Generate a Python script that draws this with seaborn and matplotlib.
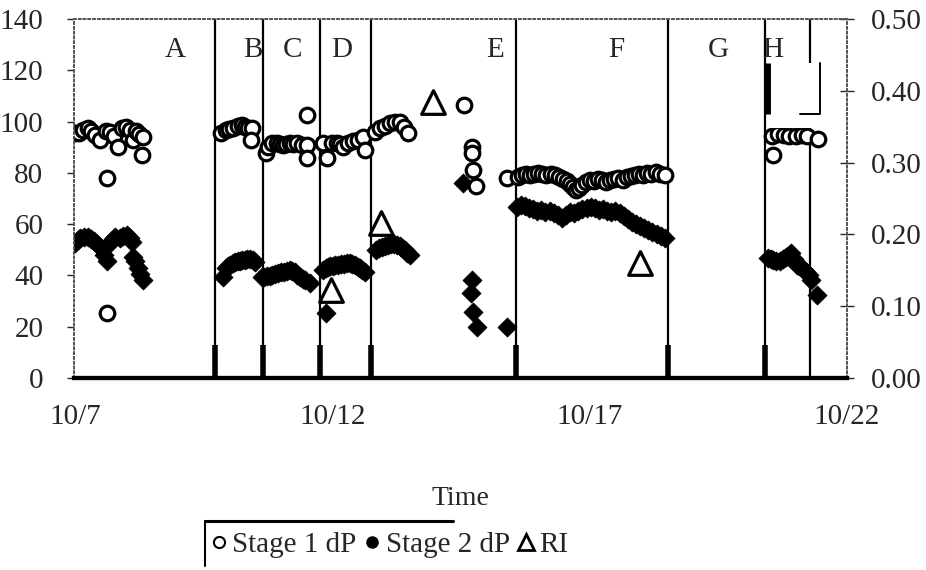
import matplotlib
matplotlib.use("Agg")
import seaborn as sns
from matplotlib import pyplot as plt
from matplotlib.lines import Line2D
from matplotlib.patches import Rectangle

# x values are days after 10/7
s1_day = [0.0, 0.08, 0.16, 0.25, 0.32, 0.39, 0.49, 0.6, 0.68, 0.76, 0.83, 0.91, 0.99, 1.07, 1.13, 1.18, 1.25, 1.32, 1.30,
          0.62, 0.62,
          2.83, 2.93, 3.0, 3.07, 3.17, 3.24, 3.30, 3.36, 3.44, 3.42,
          3.71, 3.75, 3.83, 3.92, 3.98, 4.04, 4.10, 4.17, 4.24, 4.31, 4.41, 4.50, 4.50, 4.50,
          4.82, 4.89, 4.99, 5.09, 5.15, 5.20, 5.30, 5.40, 5.50, 5.59, 5.63,
          5.83, 5.92, 6.02, 6.12, 6.21, 6.31, 6.39, 6.47,
          7.55, 7.71, 7.71, 7.73, 7.79, 8.39,
          8.60, 8.68, 8.76, 8.84, 8.92, 9.00, 9.08, 9.16, 9.24, 9.32, 9.40, 9.48, 9.56, 9.62, 9.68,
          9.74, 9.80, 9.86, 9.92, 10.00, 10.08, 10.16, 10.24, 10.32, 10.40, 10.48, 10.56, 10.64,
          10.72, 10.80, 10.88, 10.96, 11.04, 11.12, 11.20, 11.28, 11.36, 11.46,
          13.55, 13.65, 13.77, 13.88, 14.0, 14.12, 14.23, 14.43, 13.57]
s1_dp = [95.5, 95.5, 96.7, 97.5, 96.3, 94.8, 92.8, 96.3, 95.9, 94.4, 90.1, 97.5, 97.9, 96.7, 92.8, 96.3, 95.1, 94.0, 87.0,
         78.0, 25.4,
         95.5, 96.7, 97.1, 97.5, 98.3, 98.7, 97.9, 97.5, 97.5, 92.8,
         87.8, 90.1, 91.7, 91.7, 91.3, 90.9, 91.3, 91.7, 91.3, 91.7, 90.9, 90.9, 85.8, 102.6,
         91.7, 85.8, 91.7, 91.7, 91.3, 90.1, 91.7, 92.4, 92.8, 94.0, 88.9,
         95.9, 97.5, 98.3, 99.5, 99.8, 99.8, 97.9, 95.5,
         106.5, 90.1, 87.8, 81.1, 74.9, 78.0,
         78.4, 79.2, 79.6, 79.2, 79.6, 80.0, 79.6, 79.2, 79.6, 79.2, 78.4, 77.6, 76.8, 75.6, 74.5,
         73.3, 74.1, 75.3, 76.4, 77.2, 76.8, 77.6, 77.2, 76.4, 77.2, 77.6, 78.0, 77.2,
         78.4, 78.8, 79.2, 79.6, 79.2, 80.0, 79.6, 80.4, 79.6, 79.2,
         94.4, 95.1, 94.8, 94.4, 94.4, 94.8, 94.4, 93.2, 87.0]

s2_day = [0.0, 0.05, 0.1, 0.18, 0.25, 0.31, 0.37, 0.43, 0.49, 0.56, 0.62, 0.68, 0.73, 0.78, 0.87, 0.94, 1.01, 1.06,
          1.11, 1.13, 1.17, 1.22, 1.27, 1.32,
          2.87, 2.93, 2.97, 3.01, 3.06, 3.11, 3.16, 3.20, 3.25, 3.30, 3.35, 3.40, 3.45, 3.50,
          3.63, 3.68, 3.73, 3.78, 3.83, 3.89, 3.94, 4.00, 4.06, 4.11, 4.17, 4.22, 4.27, 4.32, 4.37, 4.42, 4.47, 4.56,
          4.82, 4.87, 4.91, 4.96, 5.01, 5.06, 5.11, 5.16, 5.22, 5.28, 5.34, 5.39, 5.44, 5.49, 5.53, 5.58, 5.63,
          4.87,
          5.84, 5.90, 5.96, 6.02, 6.08, 6.14, 6.19, 6.25, 6.31, 6.36, 6.41, 6.46, 6.50,
          7.53, 7.71, 7.69, 7.73, 7.81, 8.39,
          8.58, 8.66, 8.74, 8.82, 8.90, 8.98, 9.06, 9.14, 9.22, 9.30, 9.38, 9.46, 9.54, 9.62, 9.70,
          9.78, 9.86, 9.94, 10.02, 10.10, 10.18, 10.26, 10.34, 10.42, 10.50, 10.58, 10.66, 10.74,
          10.82, 10.90, 10.98, 11.06, 11.14, 11.22, 11.30, 11.38, 11.46,
          13.46, 13.52, 13.57, 13.63, 13.69, 13.75, 13.81, 13.87, 13.92, 13.97, 14.02, 14.07, 14.12,
          14.17, 14.21, 14.26, 14.31, 14.41]
s2_dp = [52.7, 53.8, 54.6, 55.0, 55.0, 54.2, 53.4, 52.3, 51.1, 48.0, 45.5, 52.7, 54.2, 55.0, 54.6, 55.4, 55.8, 54.6,
         53.0, 47.2, 45.5, 42.9, 40.6, 38.2,
         39.4, 42.9, 43.7, 44.1, 44.9, 45.2, 45.6, 45.6, 46.0, 46.0, 46.4, 46.4, 46.0, 45.2,
         39.4, 39.4, 39.8, 39.8, 40.2, 40.6, 41.0, 41.3, 41.3, 41.7, 42.1, 41.7, 41.3, 40.2, 39.4, 38.6, 38.2, 37.1,
         42.1, 42.9, 43.3, 43.7, 43.7, 44.1, 44.1, 44.5, 44.5, 44.9, 44.9, 44.5, 44.1, 43.3, 42.9, 42.1, 41.3,
         25.4,
         49.9, 50.7, 51.1, 51.5, 51.9, 52.3, 52.3, 51.9, 51.5, 50.7, 49.9, 48.8, 48.0,
         76.1, 38.2, 33.2, 25.7, 19.9, 19.9,
         66.7, 67.5, 67.1, 66.3, 65.9, 65.1, 65.5, 64.7, 65.1, 64.3, 63.6, 62.4, 63.6, 64.7, 64.3,
         65.1, 65.9, 66.3, 66.7, 66.3, 65.5, 65.9, 65.1, 64.7, 65.1, 64.3, 63.2, 62.0,
         60.8, 60.0, 59.2, 58.4, 57.7, 56.9, 56.1, 55.3, 54.6,
         46.8, 46.4, 46.0, 45.6, 45.6, 46.4, 47.2, 48.0, 48.8, 46.4, 44.1, 43.7, 42.9,
         42.1, 41.3, 40.2, 38.2, 32.4]

ri_day = [4.98, 5.95, 6.95, 10.98]
ri_val = [0.123, 0.216, 0.384, 0.160]

section_lines = [2.72, 3.65, 4.76, 5.75, 8.56, 11.53, 13.40, 14.29]
section_names = ['A', 'B', 'C', 'D', 'E', 'F', 'G', 'H']
section_label_x = [1.94, 3.46, 4.23, 5.18, 8.17, 10.52, 12.50, 13.55]

date_ticks = [0, 5, 10, 15]
date_labels = ['10/7', '10/12', '10/17', '10/22']

sns.set_style('ticks')
plt.rcParams['font.family'] = ['Liberation Serif', 'DejaVu Serif']

fig = plt.figure(figsize=(9.26, 5.70), dpi=100)
ax = fig.add_axes([74 / 926, 1 - 378 / 570, 773 / 926, 359 / 570])
ax2 = ax.twinx()

for x in section_lines[:-1]:
    ax.axvline(x, color='black', lw=1.6, zorder=1)
# the last divider is broken behind the scanned box near H
ax.vlines(section_lines[-1], 0, 97.3, color='black', lw=1.6, zorder=1)
ax.vlines(section_lines[-1], 123, 140, color='black', lw=1.6, zorder=1)
ax.vlines(section_lines[:-1], 0, 13, color='black', lw=4, zorder=1)
for x, name in zip(section_label_x, section_names):
    ax.text(x, 128, name, ha='center', va='center', fontsize=21)

sns.scatterplot(x=s2_day, y=s2_dp, marker='D', s=95, color='black',
                edgecolor='black', linewidth=0.5, ax=ax, zorder=3)
sns.scatterplot(x=s1_day, y=s1_dp, marker='o', s=110, color='white',
                edgecolor='black', linewidth=2.3, ax=ax, zorder=4)
sns.scatterplot(x=ri_day, y=ri_val, marker='^', s=290, color='white',
                edgecolor='black', linewidth=2.3, ax=ax2, zorder=5)

# scan artefact box next to H
ax.add_patch(Rectangle((13.45, 97.3), 1.02, 25.7, facecolor='white', edgecolor='none', zorder=6))
ax.plot([13.45, 13.45], [103, 123], color='black', lw=5, solid_capstyle='butt', zorder=7)
ax.plot([14.08, 14.47, 14.47], [103, 103, 123], color='black', lw=1.4, zorder=7)

ax.set_xlim(-0.02, 15.0)
ax.set_ylim(0, 140)
ax2.set_ylim(0, 0.5)
ax.set_yticks(range(0, 141, 20))
ax2.set_yticks([0, 0.1, 0.2, 0.3, 0.4, 0.5])
ax2.set_yticklabels([f'{v:.2f}' for v in [0, 0.1, 0.2, 0.3, 0.4, 0.5]])
ax.set_xticks(date_ticks)
ax.set_xticklabels(date_labels)

ax.tick_params(axis='y', direction='out', length=5, width=1, labelsize=21, pad=17)
ax.tick_params(axis='x', length=0, labelsize=21, pad=19)
ax2.tick_params(axis='y', direction='inout', length=10, width=1, labelsize=21, pad=12)

for a in (ax, ax2):
    for side in ('top', 'left', 'right'):
        a.spines[side].set_linestyle(':')
        a.spines[side].set_linewidth(1.3)
        a.spines[side].set_color('#555555')
    a.spines['bottom'].set_linewidth(3)
    a.spines['bottom'].set_color('black')

ax.set_xlabel('Time', fontsize=20, labelpad=40)

handles = [
    Line2D([], [], ls='none', marker='o', ms=8, mfc='white', mec='black', mew=1.5),
    Line2D([], [], ls='none', marker='o', ms=8, mfc='black', mec='black'),
    Line2D([], [], ls='none', marker='^', ms=11, mfc='white', mec='black', mew=2),
]
leg = fig.legend(handles, ['Stage 1 dP', 'Stage 2 dP', 'RI'], loc='center right',
                 bbox_to_anchor=(568 / 926, 1 - 545 / 570), ncol=3, frameon=False,
                 handlelength=0.6, handletextpad=0.15, columnspacing=0.25, fontsize=21,
                 borderpad=0, borderaxespad=0)
fig.canvas.draw()
bb = leg.get_window_extent(fig.canvas.get_renderer())
x0 = (bb.x0 - 5) / 926
fig.add_artist(Line2D([x0, x0], [1 - 521 / 570, 1 - 566 / 570], color='black', lw=1.5))
fig.add_artist(Line2D([x0, 453 / 926], [1 - 521 / 570, 1 - 521 / 570], color='black', lw=2.2))

fig.savefig('out.png', dpi=100)
